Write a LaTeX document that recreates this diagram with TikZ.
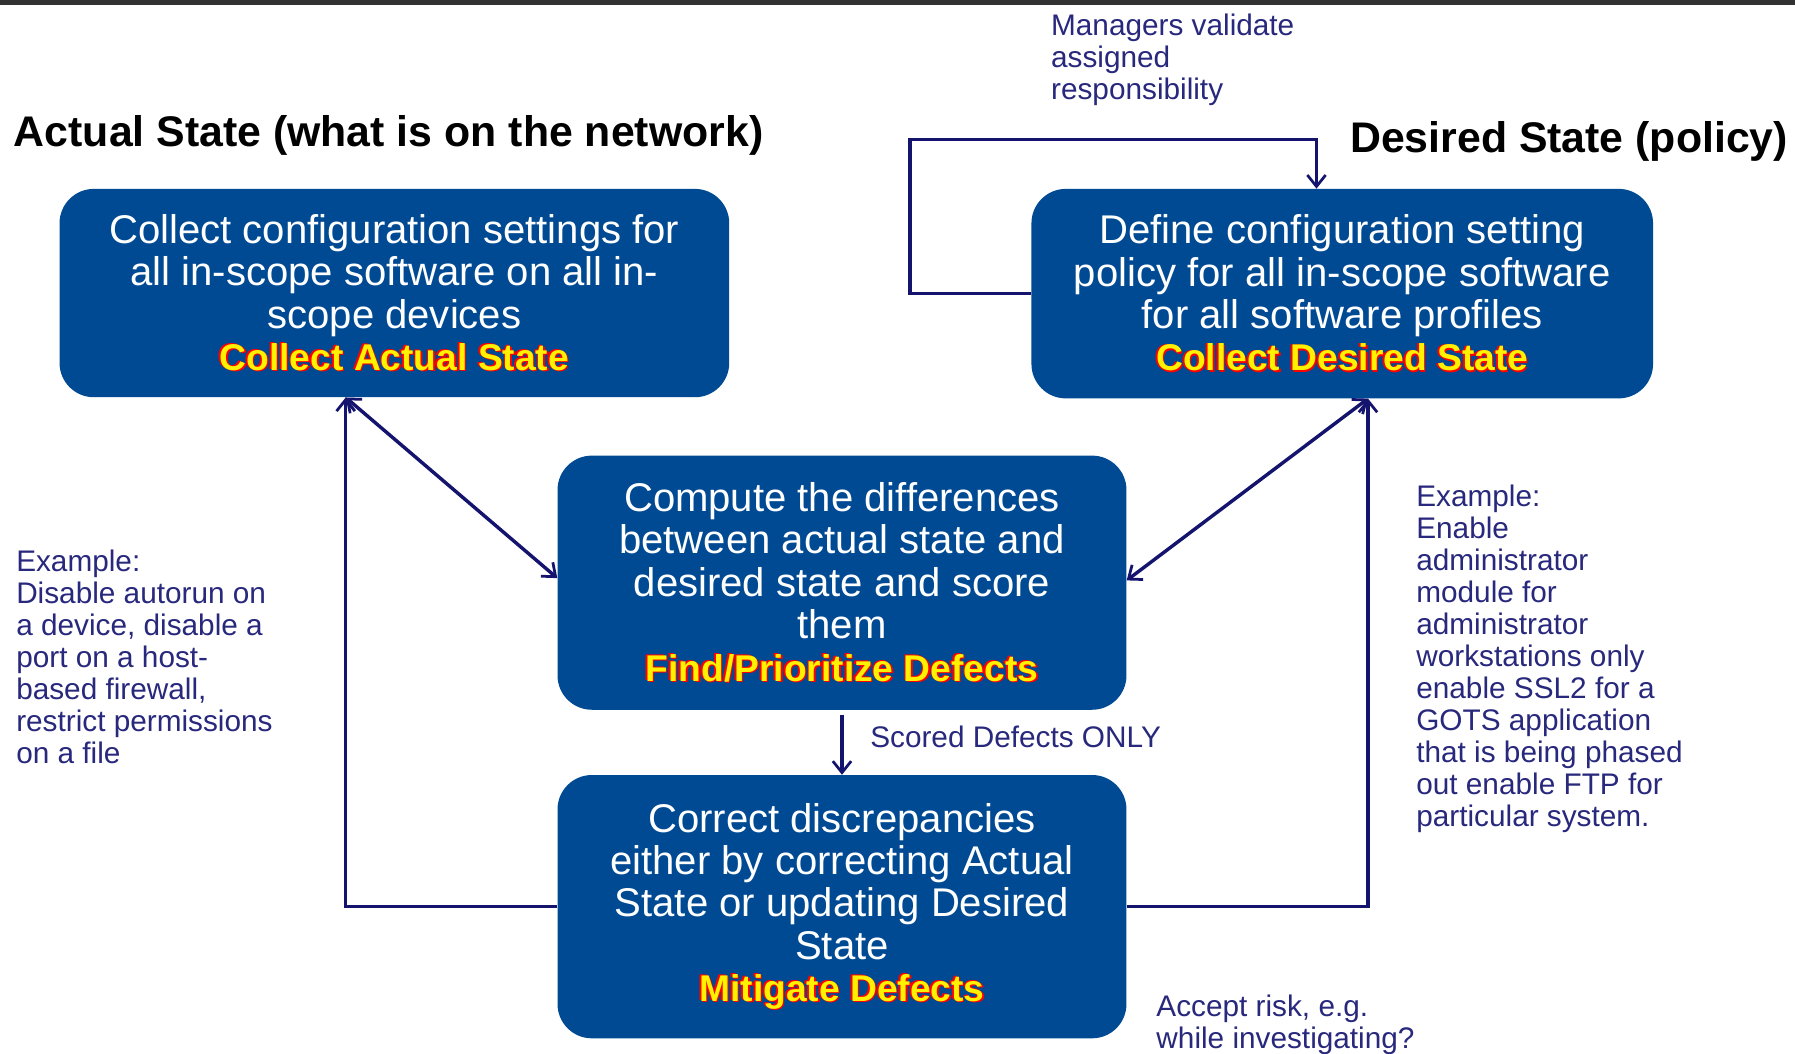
\documentclass[tikz,border=0pt]{standalone}
\usepackage{fontspec}
\setmainfont{Liberation Sans}
\usetikzlibrary{arrows.meta,calc}
\definecolor{boxblue}{RGB}{0,74,148}
\definecolor{linecol}{RGB}{20,20,110}
\definecolor{notecol}{RGB}{40,40,125}
\definecolor{topbar}{RGB}{50,50,50}
\newcommand\lbl[1]{{\fontsize{32.5}{37}\selectfont\bfseries\leavevmode\rlap{\kern-1.6pt\raisebox{0.7pt}{\color{red}#1}}\rlap{\kern1.2pt\raisebox{-0.9pt}{\color{red}#1}}{\color{yellow}#1}}}
\begin{document}
\begin{tikzpicture}[x=1pt,y=-1pt,
 box/.style={fill=boxblue, rounded corners=30pt, text=white, align=center, inner sep=0pt, font=\fontsize{35}{37}\selectfont},
 conn/.style={draw=linecol, line width=3pt},
 tip/.style={-{Straight Barb[length=10pt,width=16pt,line width=2.4pt]}},
 dtip/.style={{Straight Barb[length=10pt,width=16pt,line width=2.4pt]}-{Straight Barb[length=10pt,width=16pt,line width=2.4pt]}},
 note/.style={text=notecol, align=left, inner sep=0pt, anchor=north west, font=\fontsize{26}{28}\selectfont},
 heading/.style={inner sep=0pt, font=\fontsize{37.4}{40}\selectfont\bfseries}]
\useasboundingbox (0,0) rectangle (1568,920);
\fill[white] (0,0) rectangle (1568,920);
\fill[topbar] (0,0) rectangle (1568,4);

\node[heading, anchor=base west] (t1) at (12,128) {Actual State (what is on the network)};
\node[heading, anchor=base east] (t2) at (1562,133) {Desired State (policy)};

\node[box, minimum width=585pt, minimum height=182pt] (A) at (344.5,256) {Collect configuration settings for\\all in-scope software on all in-\\scope devices\\\lbl{Collect Actual State}};
\node[box, minimum width=543pt, minimum height=183pt] (B) at (1172.5,256.5) {Define configuration setting\\policy for all in-scope software\\for all software profiles\\\lbl{Collect Desired State}};
\node[box, minimum width=497pt, minimum height=222pt] (C) at (735.5,509) {Compute the differences\\between actual state and\\desired state and score\\them\\\lbl{Find/Prioritize Defects}};
\node[box, minimum width=497pt, minimum height=230pt] (D) at (735.5,792) {Correct discrepancies\\either by correcting Actual\\State or updating Desired\\State\\\lbl{Mitigate Defects}};

\node[note] (n1) at (918,12) {Managers validate\\assigned\\responsibility};
\node[note] (n2) at (14,480) {Example:\\Disable autorun on\\a device, disable a\\port on a host-\\based firewall,\\restrict permissions\\on a file};
\node[note] (n3) at (1237,423) {Example:\\Enable\\administrator\\module for\\administrator\\workstations only\\enable SSL2 for a\\GOTS application\\that is being phased\\out enable FTP for\\particular system.};
\node[note] (n4) at (1010,869) {Accept risk, e.g.\\while investigating?};
\node[note, anchor=base west] (n5) at (760,653) {Scored Defects ONLY};

\coordinate (lt) at (795,122);
\coordinate (lr) at (1150,122);
\coordinate (aS) at ([xshift=-42.5pt]A.south);
\coordinate (bS) at ([xshift=22.5pt]B.south);

\draw[conn,tip] (B.west) -| (lt) -- (lr) -- (lr |- B.north);
\draw[conn,dtip] (aS) -- ([yshift=4pt]C.west);
\draw[conn,dtip] (bS) -- ([yshift=2pt]C.east);
\draw[conn,tip] (D.west) -| (aS);
\draw[conn,tip] (D.east) -| (bS);
\draw[conn,tip] ([yshift=-4pt]C.south) -- (D.north);
\end{tikzpicture}
\end{document}
